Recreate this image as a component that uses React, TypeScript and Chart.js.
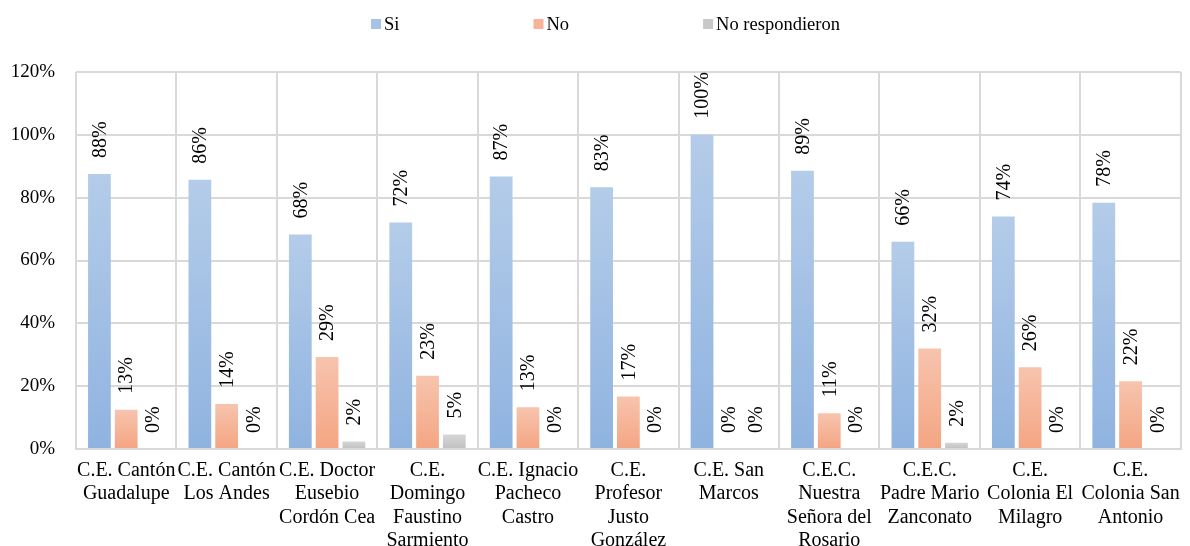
import React, { useEffect, useRef } from "react";
import { Chart, registerables } from "chart.js";

Chart.register(...registerables);

const categories: string[][] = [
  ["C.E. Cantón", "Guadalupe"],
  ["C.E. Cantón", "Los Andes"],
  ["C.E. Doctor", "Eusebio", "Cordón Cea"],
  ["C.E.", "Domingo", "Faustino", "Sarmiento"],
  ["C.E. Ignacio", "Pacheco", "Castro"],
  ["C.E.", "Profesor", "Justo", "González"],
  ["C.E. San", "Marcos"],
  ["C.E.C.", "Nuestra", "Señora del", "Rosario"],
  ["C.E.C.", "Padre Mario", "Zanconato"],
  ["C.E.", "Colonia El", "Milagro"],
  ["C.E.", "Colonia San", "Antonio"],
];

const seriesNames = ["Si", "No", "No respondieron"];
const siValues = [87.5, 85.7, 68.3, 72.1, 86.7, 83.3, 100, 88.6, 66.0, 74.0, 78.4];
const noValues = [12.5, 14.3, 29.3, 23.3, 13.3, 16.7, 0, 11.4, 32.0, 26.0, 21.6];
const nrValues = [0, 0, 2.4, 4.6, 0, 0, 0, 0, 2.0, 0, 0];
const yTicks = [0, 20, 40, 60, 80, 100, 120];

const gradTop = ["#b4cce9", "#f7c4ae", "#d6d6d6"];
const gradBottom = ["#8fb3e0", "#f4a582", "#c0c0c0"];
const legendColors = ["#a6c2e6", "#f6b398", "#c8c8c8"];

const FONT = '"Liberation Serif", "Times New Roman", serif';

function barGradient(index: number) {
  return (c: any) => {
    const chart = c.chart;
    if (c.type !== "data" || !chart.chartArea) return gradBottom[index];
    const ys = chart.scales.y;
    const v = c.raw as number;
    const top = ys.getPixelForValue(v);
    const base = ys.getPixelForValue(0);
    if (!isFinite(top) || Math.abs(base - top) < 1) return gradBottom[index];
    const g = chart.ctx.createLinearGradient(0, top, 0, base);
    g.addColorStop(0, gradTop[index]);
    g.addColorStop(1, gradBottom[index]);
    return g;
  };
}

const labelPlugin = {
  id: "barLabels",
  afterDatasetsDraw(chart: any) {
    const ctx = chart.ctx;
    ctx.save();
    ctx.font = `20px ${FONT}`;
    ctx.fillStyle = "#000";
    ctx.textAlign = "left";
    ctx.textBaseline = "middle";
    chart.data.datasets.forEach((ds: any, di: number) => {
      const meta = chart.getDatasetMeta(di);
      meta.data.forEach((bar: any, i: number) => {
        const v = ds.data[i] as number;
        const { x, y } = bar.getProps(["x", "y"], true);
        ctx.save();
        ctx.translate(x, y - 16);
        ctx.rotate(-Math.PI / 2);
        ctx.fillText(Math.round(v) + "%", 0, 1);
        ctx.restore();
      });
    });
    ctx.restore();
  },
};

const legendPlugin = {
  id: "topLegend",
  afterDraw(chart: any) {
    const ctx = chart.ctx;
    ctx.save();
    ctx.font = `18.5px ${FONT}`;
    const box = 10;
    const gap = 3;
    const spacing = 134;
    const items = chart.data.datasets.map((d: any, i: number) => ({
      text: d.label as string,
      color: legendColors[i],
      w: box + gap + ctx.measureText(d.label).width,
    }));
    const total =
      items.reduce((s: number, it: any) => s + it.w, 0) + spacing * (items.length - 1);
    let x = 605.5 - total / 2;
    const cy = 24;
    items.forEach((it: any) => {
      ctx.fillStyle = it.color;
      ctx.fillRect(x, cy - 5, box, box);
      ctx.fillStyle = "#000";
      ctx.textAlign = "left";
      ctx.textBaseline = "middle";
      ctx.fillText(it.text, x + box + gap, cy + 1);
      x += it.w + spacing;
    });
    ctx.restore();
  },
};

export default function App() {
  const ref = useRef<HTMLCanvasElement | null>(null);

  useEffect(() => {
    if (!ref.current) return;
    const valueSets = [siValues, noValues, nrValues];
    const chart = new Chart(ref.current, {
      type: "bar",
      data: {
        labels: categories,
        datasets: valueSets.map((vals, i) => ({
          label: seriesNames[i],
          data: vals,
          backgroundColor: barGradient(i),
          borderWidth: 0,
          categoryPercentage: 0.8,
          barPercentage: 0.85,
        })),
      },
      options: {
        responsive: false,
        animation: false,
        events: [],
        layout: { padding: { top: 72, left: 0, right: 6, bottom: 0 } },
        plugins: {
          legend: { display: false },
          tooltip: { enabled: false },
        },
        scales: {
          x: {
            grid: {
              color: "#d9d9d9",
              lineWidth: 2,
              drawTicks: false,
              offset: true,
            },
            border: { color: "#d9d9d9", width: 2 },
            ticks: {
              color: "#000",
              font: { family: FONT, size: 20, lineHeight: 1.165 },
              padding: 10,
              autoSkip: false,
              maxRotation: 0,
              minRotation: 0,
            },
            afterFit(scale: any) {
              scale.height = 97;
            },
          },
          y: {
            min: 0,
            max: 120,
            afterBuildTicks(scale: any) {
              scale.ticks = yTicks.map((v) => ({ value: v }));
            },
            grid: { color: "#d9d9d9", lineWidth: 2, drawTicks: false },
            border: { display: false },
            ticks: {
              color: "#000",
              font: { family: FONT, size: 19 },
              padding: 21,
              callback: (v: any) => v + "%",
            },
            afterFit(scale: any) {
              scale.width = 76;
            },
          },
        },
      },
      plugins: [labelPlugin, legendPlugin],
    });
    return () => chart.destroy();
  }, []);

  return (
    <div style={{ position: "fixed", left: 0, top: 0, width: 1190, height: 546, background: "#fff" }}>
      <canvas ref={ref} width={1190} height={546} style={{ display: "block" }} />
    </div>
  );
}
